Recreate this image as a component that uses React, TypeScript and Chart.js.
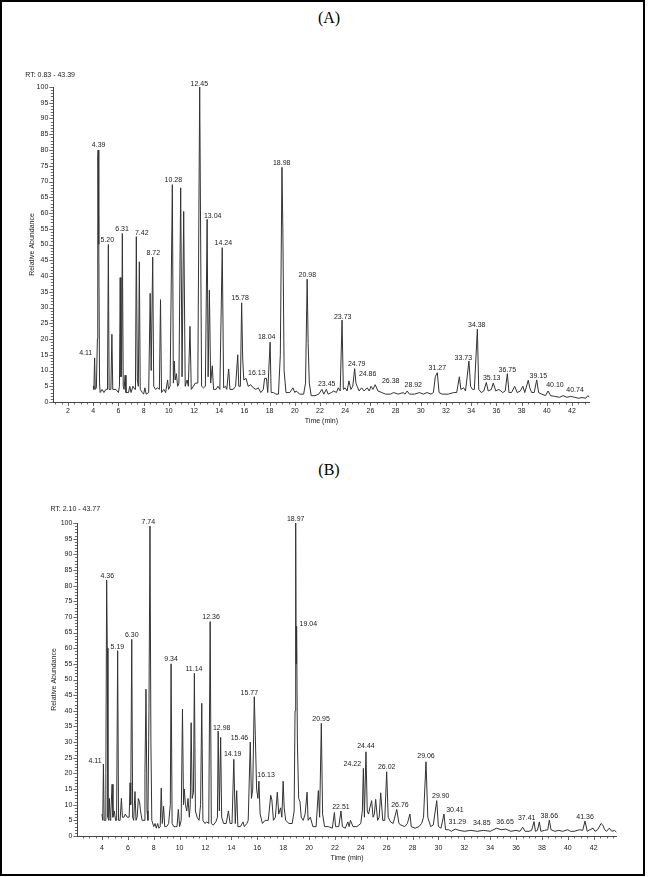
import React, { useEffect, useRef } from "react";
import { Chart, registerables } from "chart.js";
Chart.register(...registerables);

// ---------- Panel A data ----------
const rangeA = [0.83, 43.39];
const timeA = [
  4.0, 4.05, 4.11, 4.16, 4.25, 4.33, 4.36, 4.39, 4.44, 4.5, 4.55, 4.7, 4.85, 5.0, 5.13, 5.2, 5.26, 5.4, 5.48, 5.55,
  5.8, 6.0, 6.08, 6.14, 6.2, 6.25, 6.31, 6.38, 6.45, 6.53, 6.6, 6.8, 6.9, 7.0, 7.15, 7.3, 7.35, 7.42, 7.5, 7.58,
  7.66, 7.73, 7.9, 8.0, 8.1, 8.2, 8.4, 8.52, 8.6, 8.72, 8.8, 8.95, 9.1, 9.25, 9.34, 9.42, 9.6, 9.75, 9.9, 9.98,
  10.1, 10.28, 10.36, 10.43, 10.5, 10.6, 10.7, 10.8, 10.94, 11.05, 11.18, 11.3, 11.45, 11.55, 11.68, 11.78, 11.95, 12.1, 12.3, 12.45,
  12.6, 12.75, 12.9, 13.04, 13.12, 13.22, 13.32, 13.45, 13.55, 13.75, 13.9, 14.05, 14.24, 14.35, 14.5, 14.6, 14.75, 14.85, 15.1, 15.3,
  15.47, 15.55, 15.68, 15.78, 15.86, 15.95, 16.13, 16.3, 16.5, 16.7, 16.9, 17.1, 17.3, 17.5, 17.6, 17.75, 17.85, 18.04, 18.12, 18.3,
  18.5, 18.7, 18.85, 18.98, 19.05, 19.15, 19.3, 19.6, 19.85, 20.0, 20.1, 20.4, 20.7, 20.85, 20.98, 21.06, 21.15, 21.3, 21.6, 21.9,
  22.15, 22.3, 22.5, 22.65, 22.9, 23.1, 23.3, 23.45, 23.6, 23.75, 23.85, 24.0, 24.15, 24.3, 24.45, 24.6, 24.75, 24.85, 24.95, 25.1,
  25.3, 25.5, 25.75, 25.9, 26.05, 26.2, 26.38, 26.6, 26.9, 27.2, 27.6, 27.85, 28.2, 28.6, 28.75, 28.92, 29.1, 29.5, 29.9, 30.2,
  30.5, 30.8, 31.0, 31.15, 31.31, 31.45, 31.7, 32.2, 32.6, 32.85, 33.06, 33.18, 33.4, 33.55, 33.82, 33.95, 34.1, 34.25, 34.49, 34.6,
  34.8, 35.0, 35.2, 35.35, 35.6, 35.75, 35.95, 36.2, 36.5, 36.7, 36.87, 37.0, 37.2, 37.45, 37.65, 37.9, 38.1, 38.25, 38.53, 38.65,
  38.8, 39.0, 39.2, 39.35, 39.6, 39.9, 40.1, 40.3, 40.6, 41.0, 41.3, 41.6, 41.9, 42.2, 42.5, 42.8, 43.1, 43.25, 43.39,
];
const abundA = [
  5, 4, 14, 4, 4.5, 20, 78, 80, 50, 6, 3, 4, 3, 4, 4, 50, 4, 4, 21.5, 4,
  4, 3, 5, 39.5, 8, 10, 53.5, 5, 4, 8.5, 3, 3, 5, 3, 5, 4, 4, 52.5, 7, 5,
  44.5, 4, 3, 2.5, 4.5, 2.5, 3, 34.5, 10, 46, 5, 4, 4.5, 4, 32.5, 3, 4, 3, 7, 4,
  5, 69, 6, 13, 7, 9, 5, 6, 68, 8, 60.5, 5, 7, 5, 24, 4, 5, 6, 6, 100,
  5, 4.5, 5, 58, 8, 35.5, 6, 11.5, 4, 4, 5, 4, 49, 4.5, 5, 4, 10.5, 4, 4, 5,
  15, 5, 5, 31.5, 14, 7, 7.5, 5, 5.5, 4.5, 4, 4.5, 3, 4, 7.5, 7.5, 3, 19, 3, 3,
  2.5, 2.5, 15, 74.5, 55, 10, 3, 3, 4.5, 3, 3.5, 2.5, 2.5, 6, 39, 18.5, 6, 2, 2, 2.5,
  4, 2.5, 4, 2.5, 3, 3.5, 3, 4.5, 3.5, 26, 4, 4.5, 3.5, 6.7, 4, 5, 10.6, 6, 5, 3.5,
  4.5, 3.5, 4.5, 3.5, 5, 4, 5.5, 3.5, 3, 2.5, 2.5, 3, 2.5, 3, 2.5, 3.5, 2.5, 2.5, 3, 2.5,
  3, 2.5, 3, 8, 9.3, 3, 2.5, 2.5, 3, 3, 8, 4, 4.5, 3.5, 13, 5, 4, 4, 23.1, 4,
  3, 3.5, 6.2, 3.5, 4, 6, 3.5, 4, 3, 3.5, 9, 3, 3, 5, 3, 3.5, 5, 3, 6.9, 4.5,
  3, 3, 7, 3, 2.5, 2, 3.5, 2, 1.8, 1.5, 2, 1.5, 1.8, 1.5, 1.2, 1.4, 1.2, 2, 1.5,
];
const peakTextA = ["4.11", "4.39", "5.20", "6.31", "7.42", "8.72", "10.28", "12.45", "13.04", "14.24", "15.78", "16.13", "18.04", "18.98", "20.98", "23.45", "23.73", "24.79", "24.86", "26.38", "28.92", "31.27", "33.73", "34.38", "35.13", "36.75", "39.15", "40.10", "40.74"];
const peakLabelTimeA = [3.4, 4.43, 5.12, 6.29, 7.85, 8.77, 10.36, 12.42, 13.48, 14.33, 15.65, 16.98, 17.77, 18.96, 20.99, 22.53, 23.8, 24.91, 25.78, 27.61, 29.4, 31.31, 33.37, 34.44, 35.63, 36.87, 39.33, 40.65, 42.24];
const peakLabelAbundA = [15.5, 81.6, 51.3, 55, 53.6, 47.4, 70.4, 101, 58.9, 50.4, 33, 9.1, 20.5, 75.9, 40.3, 5.6, 27, 12.2, 9, 6.7, 5.3, 10.7, 14.1, 24.4, 7.5, 10.2, 8.3, 5.3, 3.7];

// ---------- Panel B data ----------
const rangeB = [2.1, 43.77];
const timeB = [
  4.0, 4.06, 4.11, 4.17, 4.25, 4.3, 4.36, 4.41, 4.46, 4.52, 4.57, 4.63, 4.68, 4.78, 4.85, 4.95, 5.05, 5.13, 5.21, 5.28,
  5.4, 5.5, 5.58, 5.7, 5.8, 5.95, 6.1, 6.17, 6.22, 6.3, 6.37, 6.45, 6.55, 6.63, 6.72, 6.81, 6.9, 6.98, 7.1, 7.25,
  7.32, 7.4, 7.48, 7.55, 7.63, 7.71, 7.78, 7.85, 8.0, 8.1, 8.2, 8.3, 8.4, 8.5, 8.58, 8.66, 8.76, 8.85, 9.0, 9.15,
  9.28, 9.34, 9.42, 9.55, 9.7, 9.8, 9.9, 10.0, 10.12, 10.22, 10.3, 10.36, 10.45, 10.55, 10.65, 10.75, 10.82, 10.89, 10.97, 11.07,
  11.14, 11.22, 11.35, 11.5, 11.62, 11.71, 11.8, 11.95, 12.1, 12.25, 12.36, 12.45, 12.6, 12.8, 12.92, 12.98, 13.07, 13.17, 13.25, 13.4,
  13.6, 13.77, 13.9, 14.05, 14.19, 14.3, 14.41, 14.5, 14.7, 14.9, 15.0, 15.2, 15.3, 15.46, 15.55, 15.65, 15.77, 15.85, 15.95, 16.05,
  16.13, 16.22, 16.4, 16.6, 16.85, 17.04, 17.13, 17.25, 17.4, 17.55, 17.66, 17.8, 17.9, 18.0, 18.08, 18.2, 18.45, 18.7, 18.85, 18.92,
  18.97, 19.0, 19.04, 19.1, 19.2, 19.3, 19.4, 19.55, 19.7, 19.85, 19.93, 20.1, 20.3, 20.55, 20.72, 20.82, 20.95, 21.05, 21.2, 21.5,
  21.8, 21.96, 22.05, 22.3, 22.47, 22.58, 22.8, 23.0, 23.1, 23.2, 23.4, 23.7, 24.0, 24.12, 24.2, 24.28, 24.4, 24.5, 24.6, 24.7,
  24.84, 24.95, 25.05, 25.15, 25.3, 25.42, 25.54, 25.7, 25.85, 26.0, 26.12, 26.3, 26.5, 26.78, 26.95, 27.1, 27.4, 27.6, 27.8, 27.9,
  28.2, 28.5, 28.7, 28.85, 29.04, 29.18, 29.4, 29.6, 29.87, 30.0, 30.2, 30.43, 30.55, 30.8, 31.0, 31.3, 31.6, 32.0, 32.5, 33.0,
  33.5, 34.0, 34.5, 34.85, 35.2, 35.6, 36.0, 36.3, 36.51, 36.7, 37.0, 37.2, 37.39, 37.5, 37.65, 37.8, 37.92, 38.2, 38.45, 38.57,
  38.7, 39.0, 39.3, 39.6, 40.0, 40.2, 40.5, 40.9, 41.15, 41.33, 41.5, 41.7, 41.95, 42.1, 42.3, 42.57, 42.7, 42.85, 43.0, 43.2,
  43.4, 43.6, 43.77,
];
const abundB = [
  7, 5, 23, 5, 5, 20, 81.8, 60, 6, 5, 12, 5, 7, 16.5, 6, 8, 5, 5, 59.2, 5,
  5, 12, 6, 6, 7, 6, 6, 17, 10, 62.8, 6, 5, 14.2, 5, 6, 12, 11, 8, 5, 5,
  20, 46.9, 8, 5, 40, 99, 30, 5, 3, 4, 2.5, 4, 2.5, 3, 15.3, 4, 9.5, 3, 3, 4,
  10, 55, 4, 3, 3, 3, 8.5, 3, 5, 40.5, 10, 15, 10, 8, 12, 6, 10, 36.2, 12, 14,
  52, 8, 6, 5, 10, 42.4, 5, 4, 4.5, 4, 68.5, 4, 3.5, 4.5, 6, 33.5, 8, 31.5, 6, 4,
  4, 8, 4, 4, 24.5, 4, 14.5, 3, 3, 4.5, 3, 4, 5, 30, 12, 15, 44.5, 32, 15, 12,
  17.5, 7, 4, 5, 5, 13, 11.5, 5, 6, 14, 7, 9, 6, 17.5, 9, 5, 4, 4, 8, 40,
  100, 55, 67, 30, 12, 11, 6, 5, 7, 14, 5, 6, 3, 3, 14.5, 6, 36, 7, 3, 3,
  2.5, 7.5, 3, 3, 8, 3, 2.5, 4.5, 3, 5, 3, 3, 4, 8, 21.6, 6, 26.9, 8, 7, 9,
  11.3, 6, 7, 11.7, 5, 6, 13.8, 5, 5, 20.5, 6, 4.5, 4, 8.5, 4, 3.5, 3, 4, 7, 3,
  2.5, 3, 4, 6, 23.7, 6, 3, 3.5, 11.3, 3, 2.5, 7, 2, 2, 1.5, 2.2, 1.8, 1.5, 1.8, 1.5,
  1.8, 1.5, 2.5, 2, 2.2, 1.5, 1.8, 1.5, 2.8, 1.5, 1.5, 1.8, 4.6, 1.5, 1.8, 4.5, 1.5, 1.8, 2, 5.1,
  2, 1.5, 1.8, 1.5, 2, 1.5, 1.5, 2, 1.8, 4.8, 1.5, 2, 2.5, 1.5, 2, 4, 3.5, 2, 1.5, 2.5,
  1.5, 1.8, 1.2,
];
const peakTextB = ["4.11", "4.36", "5.19", "6.30", "7.74", "9.34", "11.14", "12.36", "12.98", "14.19", "15.46", "15.77", "16.13", "18.97", "19.04", "20.95", "22.51", "24.22", "24.44", "26.02", "26.76", "29.06", "29.90", "30.41", "31.29", "34.85", "36.65", "37.41", "38.66", "41.36"];
const peakLabelTimeB = [3.46, 4.41, 5.19, 6.3, 7.58, 9.34, 11.11, 12.43, 13.25, 14.1, 14.62, 15.39, 16.68, 18.97, 19.95, 20.93, 22.47, 23.35, 24.4, 26.0, 27.03, 29.04, 30.18, 31.28, 31.46, 33.35, 35.15, 36.82, 38.57, 41.33];
const peakLabelAbundB = [24, 83, 60.5, 64.3, 100.3, 56.4, 53.2, 69.8, 34.6, 26.1, 31.4, 45.8, 19.5, 101.4, 67.7, 37.3, 9.4, 23, 28.8, 21.9, 9.9, 25.6, 12.6, 8.3, 4.6, 4.2, 4.6, 5.8, 6.4, 6.2];

const abundanceRange = [0, 100];
const xMajorStep = 2;
const xMinorStep = 0.5;
const yMajorStep = 5;
const yMinorStep = 1;

const SANS = '"Liberation Sans", Arial, sans-serif';
const TEXT = "#1a1a1a";
const TRACE = "#333333";
const AXIS = "#444444";

function isMajor(v: number, step: number) {
  const r = Math.round(v * 2) / 2;
  return Math.abs(r % step) < 1e-9;
}

const peakLabelPlugin = {
  id: "peakLabels",
  afterDatasetsDraw(chart: any, _args: any, opts: any) {
    const { ctx, chartArea } = chart;
    const xs = chart.scales.x;
    const ys = chart.scales.y;
    ctx.save();
    // tick marks: long for major, short for minor
    ctx.strokeStyle = AXIS;
    ctx.lineWidth = 0.8;
    ctx.beginPath();
    xs.ticks.forEach((t: any) => {
      const px = Math.round(xs.getPixelForValue(t.value)) + 0.5;
      const len = isMajor(t.value, xMajorStep) ? 4 : 2.5;
      ctx.moveTo(px, chartArea.bottom);
      ctx.lineTo(px, chartArea.bottom + len);
    });
    ys.ticks.forEach((t: any) => {
      const py = Math.round(ys.getPixelForValue(t.value)) + 0.5;
      const len = isMajor(t.value, yMajorStep) ? 4 : 2.5;
      ctx.moveTo(chartArea.left, py);
      ctx.lineTo(chartArea.left - len, py);
    });
    ctx.stroke();

    ctx.fillStyle = TEXT;
    ctx.font = `7px ${SANS}`;
    ctx.textAlign = "center";
    ctx.textBaseline = "middle";
    opts.texts.forEach((t: string, i: number) => {
      ctx.fillText(t, xs.getPixelForValue(opts.times[i]), ys.getPixelForValue(opts.values[i]));
    });
    ctx.textAlign = "left";
    ctx.fillText(opts.rt, chartArea.left + opts.rtDx, chartArea.top + opts.rtDy);
    ctx.restore();
  },
};

function makeConfig(p: any) {
  return {
    type: "line",
    data: {
      datasets: [
        {
          data: p.times.map((t: number, i: number) => ({ x: t, y: p.values[i] })),
          borderColor: TRACE,
          borderWidth: 1,
          pointRadius: 0,
          tension: 0,
          fill: false,
        },
      ],
    },
    options: {
      responsive: false,
      maintainAspectRatio: false,
      animation: false,
      events: [],
      layout: { padding: p.padding },
      plugins: {
        legend: { display: false },
        tooltip: { enabled: false },
        peakLabels: {
          texts: p.texts,
          times: p.labelTimes,
          values: p.labelValues,
          rt: `RT: ${p.range[0].toFixed(2)} - ${p.range[1].toFixed(2)}`,
          rtDx: p.rtDx,
          rtDy: p.rtDy,
        },
      },
      scales: {
        x: {
          type: "linear",
          min: p.range[0],
          max: p.range[1],
          afterFit: (s: any) => {
            s.height = p.xAxisHeight;
          },
          border: { display: true, color: AXIS, width: 1 },
          grid: { display: false, drawOnChartArea: false, drawTicks: false },
          ticks: {
            stepSize: xMinorStep,
            autoSkip: false,
            maxRotation: 0,
            minRotation: 0,
            includeBounds: false,
            padding: p.xTickPad,
            color: TEXT,
            font: { size: 7, family: SANS },
            callback: (v: number) => (isMajor(v, xMajorStep) ? String(Math.round(v)) : ""),
          },
          title: {
            display: true,
            text: "Time (min)",
            color: TEXT,
            font: { size: 7, family: SANS },
            padding: { top: 0, bottom: 2 },
          },
        },
        y: {
          min: abundanceRange[0],
          max: abundanceRange[1],
          afterFit: (s: any) => {
            s.width = p.yAxisWidth;
          },
          border: { display: true, color: AXIS, width: 1 },
          grid: { display: false, drawOnChartArea: false, drawTicks: false },
          ticks: {
            stepSize: yMinorStep,
            autoSkip: false,
            padding: 5,
            color: TEXT,
            font: { size: 7, family: SANS },
            callback: (v: number) => (isMajor(v, yMajorStep) ? String(Math.round(v)) : ""),
          },
          title: {
            display: true,
            text: "Relative Abundance",
            color: TEXT,
            font: { size: 7, family: SANS },
            padding: { top: 0, bottom: 0 },
          },
        },
      },
    },
    plugins: [peakLabelPlugin],
  };
}

function ChromCanvas(props: any) {
  const ref = useRef<HTMLCanvasElement | null>(null);
  useEffect(() => {
    if (!ref.current) return;
    const chart = new Chart(ref.current, makeConfig(props.cfg) as any);
    return () => chart.destroy();
  }, []);
  return (
    <canvas
      ref={ref}
      width={648}
      height={props.height}
      style={{ position: "absolute", left: 0, top: props.top, width: 648, height: props.height }}
    />
  );
}

const cfgA = {
  range: rangeA,
  times: timeA,
  values: abundA,
  texts: peakTextA,
  labelTimes: peakLabelTimeA,
  labelValues: peakLabelAbundA,
  padding: { left: 28, right: 58.5, top: 27, bottom: 5 },
  yAxisWidth: 25.3,
  xAxisHeight: 25,
  xTickPad: 5,
  rtDx: -28,
  rtDy: -12,
};

const cfgB = {
  range: rangeB,
  times: timeB,
  values: abundB,
  texts: peakTextB,
  labelTimes: peakLabelTimeB,
  labelValues: peakLabelAbundB,
  padding: { left: 50, right: 31.4, top: 28, bottom: 6 },
  yAxisWidth: 27.4,
  xAxisHeight: 28,
  xTickPad: 8,
  rtDx: -27,
  rtDy: -14,
};

export default function App() {
  const titleStyle: any = {
    position: "absolute",
    left: 0,
    width: 658,
    textAlign: "center",
    fontFamily: '"Liberation Serif", "Times New Roman", serif',
    fontSize: 16,
    lineHeight: "18px",
    color: "#000",
  };
  return (
    <div style={{ position: "absolute", left: 0, top: 0, width: 648, height: 877, background: "#fff", overflow: "hidden" }}>
      <div style={{ ...titleStyle, top: 9 }}>(A)</div>
      <div style={{ ...titleStyle, top: 461 }}>(B)</div>
      <ChromCanvas cfg={cfgA} top={60} height={372} />
      <ChromCanvas cfg={cfgB} top={495} height={375} />
      <div
        style={{
          position: "absolute",
          left: 0,
          top: 0,
          width: 645,
          height: 876,
          border: "2px solid #000",
          boxSizing: "border-box",
          pointerEvents: "none",
        }}
      />
    </div>
  );
}
